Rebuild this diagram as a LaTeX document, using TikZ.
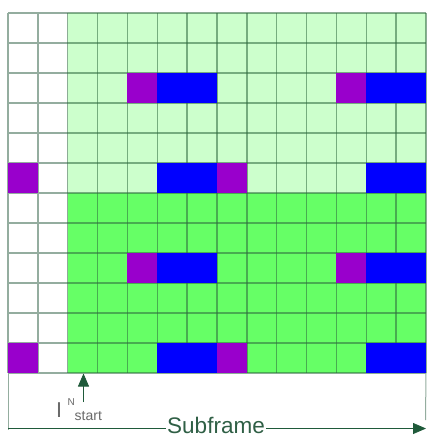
\documentclass[tikz,border=0pt]{standalone}
\usepackage{fontspec}
\setmainfont{Liberation Sans}
\usetikzlibrary{arrows.meta}
\definecolor{lgreen}{HTML}{CCFFCC}
\definecolor{bgreen}{HTML}{66FF66}
\definecolor{purp}{HTML}{9900CC}
\definecolor{blu}{HTML}{0000FF}
\definecolor{gline}{HTML}{2E6B3E}
\definecolor{wline}{HTML}{94AD9F}
\definecolor{dgreen}{HTML}{1F5A3A}
\definecolor{txtgreen}{HTML}{2F5F45}
\definecolor{txtgray}{HTML}{6A6A6A}
\tikzset{
  gridgreen/.style={draw=gline, draw opacity=0.55, line width=1.5pt},
  gridwhite/.style={draw=wline, line width=1.3pt},
  framegray/.style={draw=wline, line width=1pt},
  pcell/.style={fill=purp},
  bcell/.style={fill=blu},
  mainarrow/.style={draw=dgreen, line width=0.8pt, -{Triangle[length=13pt,width=11pt]}},
}
\begin{document}
\begin{tikzpicture}[x=1pt,y=-1pt]
\useasboundingbox (0,0) rectangle (427,436);
\fill[white] (0,0) rectangle (427,436);
\begin{scope}[shift={(8,13)}, x=29.857pt, y=-30pt]
  \fill[lgreen] (2,0) rectangle (14,6);
  \fill[bgreen] (2,6) rectangle (14,12);
  % white area grid
  \foreach \r in {0,...,12} \draw[gridwhite] (0,\r) -- (2,\r);
  \foreach \c in {0,1} \draw[gridwhite] (\c,0) -- (\c,12);
  % green area grid
  \foreach \r in {0,...,12} \draw[gridgreen] (2,\r) -- (14,\r);
  \foreach \c in {2,...,14} \draw[gridgreen] (\c,0) -- (\c,12);
  % coloured cells
  \foreach \r in {2,8} {
    \fill[pcell] (4,\r) rectangle (5,\r+1);
    \fill[bcell] (5,\r) rectangle (7,\r+1);
    \fill[pcell] (11,\r) rectangle (12,\r+1);
    \fill[bcell] (12,\r) rectangle (14,\r+1);
  }
  \foreach \r in {5,11} {
    \fill[pcell] (0,\r) rectangle (1,\r+1);
    \fill[bcell] (5,\r) rectangle (7,\r+1);
    \fill[pcell] (7,\r) rectangle (8,\r+1);
    \fill[bcell] (12,\r) rectangle (14,\r+1);
  }
  \coordinate (gridBL) at (0,12);
  \coordinate (gridBR) at (14,12);
\end{scope}
% frame lines below grid
\coordinate (leftbot) at (8,430);
\coordinate (rightbot) at (425.5,420);
\draw[framegray] (gridBL) -- (leftbot);
\draw[framegray] (gridBR) -- (rightbot);
% Subframe arrow
\coordinate (sfstart) at (8,428.5);
\coordinate (sfend) at (426,428.5);
\draw[mainarrow] (sfstart) -- (sfend);
\node[anchor=base, fill=white, inner xsep=1.5pt, inner ysep=0pt, text depth=0pt, text=txtgreen, font=\fontsize{22.5}{22.5}\selectfont] (sf) at (216,433.5) {Subframe};
% start arrow
\coordinate (startbase) at (83.5,402);
\coordinate (starttip) at (83.5,373.5);
\draw[mainarrow] (startbase) -- (starttip);
\node[anchor=base west, inner sep=0pt, text=txtgray, font=\fontsize{21.5}{21.5}\selectfont] (iN) at (56,417.5) {I};
\node[anchor=base west, inner sep=0pt, text=txtgray, font=\fontsize{10}{10}\selectfont] (sup) at (67.5,405.5) {N};
\node[anchor=base west, inner sep=0pt, text=txtgray, font=\fontsize{14}{14}\selectfont] (sub) at (74.5,420) {start};
\end{tikzpicture}
\end{document}
